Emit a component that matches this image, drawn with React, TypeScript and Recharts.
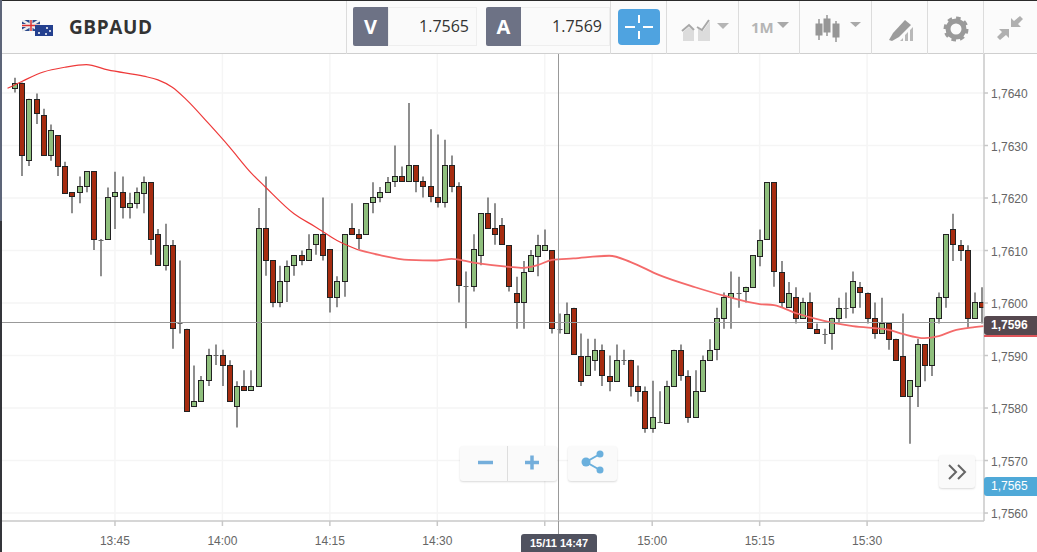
import React from 'react';
import { ComposedChart, Bar, Line, XAxis, YAxis, CartesianGrid, ReferenceLine } from 'recharts';

// one candle per minute, starting 13:31
const firstMinute = 811;

const opens = [
  1.7641, 1.7642, 1.76272, 1.76389, 1.76359, 1.76282, 1.7632, 1.76261, 1.76211, 1.76211,
  1.76222, 1.76251, 1.7612, 1.76122, 1.76203, 1.76211, 1.76182, 1.76191, 1.7621, 1.7623,
  1.76132, 1.76073, 1.76111, 1.75962, 1.75951, 1.75803, 1.75813, 1.75853, 1.75901, 1.75901,
  1.75882, 1.75803, 1.75842, 1.75834, 1.75842, 1.76143, 1.76081, 1.76001, 1.76041, 1.76073,
  1.76091, 1.76081, 1.76113, 1.76131, 1.76102, 1.76012, 1.76041, 1.76142, 1.76131, 1.76131,
  1.76192, 1.76202, 1.76211, 1.76232, 1.76241, 1.76232, 1.76262, 1.76232, 1.76222, 1.76202,
  1.76192, 1.76262, 1.76222, 1.76032, 1.76033, 1.76092, 1.76171, 1.76142, 1.76149, 1.7611,
  1.7602, 1.76001, 1.76061, 1.7609, 1.76101, 1.76101, 1.75951, 1.75942, 1.75991, 1.759,
  1.75862, 1.75891, 1.75911, 1.75861, 1.75852, 1.75892, 1.75892, 1.75842, 1.75832, 1.75762,
  1.75773, 1.75772, 1.75841, 1.75911, 1.75861, 1.75782, 1.75833, 1.75891, 1.75912, 1.75971,
  1.76011, 1.7602, 1.76022, 1.76031, 1.7609, 1.76122, 1.7623, 1.7606, 1.75992, 1.76011,
  1.75972, 1.76001, 1.75951, 1.75941, 1.75942, 1.75972, 1.75991, 1.75992, 1.7603, 1.7602,
  1.75971, 1.75942, 1.75961, 1.75932, 1.759, 1.75822, 1.75841, 1.75922, 1.75881, 1.75971,
  1.76011, 1.76141, 1.7611, 1.76101, 1.75971, 1.76001,
];
const closes = [
  1.7642, 1.76282, 1.76389, 1.76362, 1.76282, 1.7633, 1.76261, 1.7621, 1.76203, 1.76222,
  1.76251, 1.76122, 1.7612, 1.76201, 1.76211, 1.76182, 1.76191, 1.76211, 1.7623, 1.76122,
  1.76073, 1.76111, 1.75953, 1.75962, 1.75794, 1.75813, 1.75853, 1.75901, 1.75901, 1.75882,
  1.75813, 1.75842, 1.75834, 1.75842, 1.76143, 1.76081, 1.76001, 1.76042, 1.76071, 1.76091,
  1.76081, 1.76103, 1.76131, 1.76092, 1.76011, 1.76042, 1.76131, 1.76131, 1.76123, 1.7619,
  1.76201, 1.76212, 1.7623, 1.76241, 1.76232, 1.76262, 1.76232, 1.76222, 1.76203, 1.76192,
  1.76262, 1.76222, 1.76034, 1.76032, 1.76103, 1.76171, 1.76142, 1.76131, 1.76112, 1.76032,
  1.76001, 1.7606, 1.76091, 1.7611, 1.7611, 1.75953, 1.75951, 1.7598, 1.75902, 1.75852,
  1.759, 1.75911, 1.75862, 1.75852, 1.75892, 1.75892, 1.75841, 1.75833, 1.75762, 1.75782,
  1.75773, 1.75842, 1.75911, 1.75862, 1.75782, 1.75832, 1.75892, 1.75911, 1.75971, 1.76012,
  1.7602, 1.7602, 1.7603, 1.76091, 1.7612, 1.7623, 1.76061, 1.76001, 1.7602, 1.75972,
  1.76001, 1.75953, 1.75942, 1.75941, 1.75972, 1.75991, 1.75991, 1.76041, 1.76021, 1.75971,
  1.75942, 1.75961, 1.75932, 1.75892, 1.75822, 1.75853, 1.75922, 1.75881, 1.75971, 1.76011,
  1.76131, 1.76112, 1.76101, 1.75971, 1.76001, 1.75992,
];
const highs = [
  1.76429, 1.7642, 1.76389, 1.76399, 1.7637, 1.7634, 1.7632, 1.76269, 1.76211, 1.76241,
  1.76251, 1.76251, 1.76122, 1.7622, 1.7625, 1.76241, 1.7621, 1.7622, 1.76241, 1.7623,
  1.76141, 1.76151, 1.7612, 1.76081, 1.75951, 1.75881, 1.75861, 1.75913, 1.75921, 1.75911,
  1.75891, 1.75851, 1.75872, 1.75872, 1.76181, 1.76241, 1.76081, 1.76071, 1.76081, 1.76091,
  1.761, 1.76131, 1.76131, 1.76201, 1.76102, 1.76051, 1.76131, 1.7619, 1.76141, 1.7619,
  1.7623, 1.76221, 1.7624, 1.763, 1.7626, 1.76381, 1.76262, 1.76241, 1.76331, 1.76321,
  1.76311, 1.76281, 1.7623, 1.7606, 1.76131, 1.76171, 1.76201, 1.7619, 1.76162, 1.7611,
  1.7605, 1.7608, 1.76101, 1.7613, 1.7614, 1.76101, 1.7598, 1.76001, 1.75991, 1.75942,
  1.75932, 1.75932, 1.75921, 1.759, 1.75921, 1.75911, 1.75892, 1.75881, 1.75841, 1.75852,
  1.75832, 1.75852, 1.75911, 1.75921, 1.75872, 1.75872, 1.759, 1.75931, 1.75991, 1.7602,
  1.7606, 1.7605, 1.76031, 1.76091, 1.7614, 1.7623, 1.7623, 1.7608, 1.7604, 1.7603,
  1.7601, 1.7602, 1.75961, 1.75951, 1.75972, 1.7601, 1.7602, 1.7606, 1.7604, 1.7602,
  1.76001, 1.7601, 1.75961, 1.75932, 1.7598, 1.75853, 1.75932, 1.75922, 1.75971, 1.7602,
  1.76131, 1.7617, 1.7612, 1.7611, 1.7602, 1.7603,
];
const lows = [
  1.76401, 1.76242, 1.76261, 1.76341, 1.76282, 1.76271, 1.76242, 1.7621, 1.76171, 1.7619,
  1.76211, 1.76101, 1.76051, 1.76122, 1.76141, 1.76161, 1.76161, 1.7618, 1.76171, 1.76092,
  1.76073, 1.76062, 1.75913, 1.75942, 1.75794, 1.75803, 1.75813, 1.75842, 1.75882, 1.75842,
  1.75813, 1.75763, 1.75834, 1.75834, 1.75842, 1.76052, 1.75992, 1.75992, 1.76002, 1.76052,
  1.76072, 1.76081, 1.76092, 1.76081, 1.75982, 1.75992, 1.76012, 1.76131, 1.76102, 1.76131,
  1.76171, 1.76192, 1.76211, 1.76221, 1.76232, 1.76232, 1.76211, 1.76201, 1.76192, 1.76182,
  1.76182, 1.76211, 1.76001, 1.75952, 1.76022, 1.76072, 1.76142, 1.76111, 1.76112, 1.76022,
  1.75951, 1.75951, 1.76061, 1.76051, 1.76101, 1.75942, 1.75942, 1.75942, 1.75902, 1.75842,
  1.75862, 1.75871, 1.75842, 1.75832, 1.75852, 1.75882, 1.75822, 1.75812, 1.75753, 1.75753,
  1.75773, 1.75772, 1.75841, 1.75852, 1.75772, 1.75782, 1.75833, 1.75891, 1.75891, 1.75951,
  1.75951, 1.75991, 1.76001, 1.76031, 1.7607, 1.76122, 1.76031, 1.75991, 1.75992, 1.75961,
  1.75972, 1.75953, 1.75942, 1.75922, 1.75911, 1.75961, 1.75971, 1.7598, 1.75991, 1.75961,
  1.75932, 1.75942, 1.75911, 1.75892, 1.75822, 1.75732, 1.75802, 1.75851, 1.75861, 1.75961,
  1.75991, 1.7608, 1.7608, 1.75953, 1.75971, 1.75961,
];

// moving average (minute of day, price)
const maMinutes = [810, 812, 815, 818, 821, 824, 829, 831, 833, 835, 838, 841, 844, 846, 850, 853, 856, 859, 862, 866, 870, 872, 875, 880, 882, 884, 886, 889, 894, 897, 901, 906, 910, 915, 917, 920, 924, 928, 933, 935, 938, 940, 942, 945, 947];
const maValues = [1.76409, 1.76422, 1.7644, 1.76449, 1.76454, 1.76444, 1.76432, 1.76425, 1.76411, 1.76387, 1.76343, 1.76297, 1.76248, 1.76221, 1.7617, 1.76145, 1.76119, 1.76101, 1.76091, 1.76082, 1.76081, 1.76084, 1.76077, 1.76069, 1.76067, 1.76072, 1.76082, 1.76085, 1.7609, 1.76078, 1.76053, 1.7603, 1.76014, 1.75998, 1.75996, 1.75981, 1.75966, 1.75956, 1.75949, 1.75941, 1.75933, 1.75937, 1.75947, 1.75954, 1.75957];
const maSplit = 18; // the line gets paler and thicker from here on

const yTicks = [1.756, 1.757, 1.758, 1.759, 1.76, 1.761, 1.762, 1.763, 1.764];
const xTicks = [825, 840, 855, 870, 885, 900, 915, 930];
const xTickLabels = ['13:45', '14:00', '14:15', '14:30', '', '15:00', '15:15', '15:30'];

const cursorMinute = 886.93;
const cursorPrice = 1.75963;

const candles = opens.map((open, i) => ({
  minute: firstMinute + i,
  open,
  close: closes[i],
  high: highs[i],
  low: lows[i],
  range: [lows[i], highs[i]],
}));
const maPoints = maMinutes.map((minute, i) => ({ minute, ma: maValues[i] }));

const Candle = (props: any) => {
  const { x, y, width, height, payload } = props;
  const { open, close, high, low } = payload;
  const perUnit = height / (high - low || 1);
  const top = Math.round(y + (high - Math.max(open, close)) * perUnit) + 0.5;
  const bottom = Math.round(y + (high - Math.min(open, close)) * perUnit) + 0.5;
  const left = Math.round(x) + 0.5;
  const mid = left + (width - 1) / 2;
  const doji = open === close;
  const fill = close > open ? '#8fbf7d' : '#a62c10';
  return (
    <g>
      <line x1={mid} x2={mid} y1={y} y2={y + height} stroke="#444" strokeWidth={1.2} />
      {doji ? (
        <line x1={left} x2={left + width - 1} y1={top} y2={top} stroke="#666" strokeWidth={1} />
      ) : (
        <rect x={left} y={top} width={width - 1} height={Math.max(bottom - top, 2)} fill={fill} stroke="#222" strokeWidth={1} />
      )}
    </g>
  );
};

const box = (left: number, top: number, width: number, height: number, extra: React.CSSProperties = {}): React.CSSProperties => ({
  position: 'absolute', left, top, width, height, boxSizing: 'border-box', ...extra,
});

const headFont = '"Open Sans", sans-serif';

const Header = () => (
  <div style={box(0, 0, 1037, 54, { background: '#fbfbfb', borderBottom: '1px solid #cfcfcf', borderTop: '1px solid #2a2a2a' })}>
    <svg style={{ position: 'absolute', left: 22, top: 19 }} width={32} height={18}>
      <rect x={0} y={0} width={18} height={11} fill="#2c4a8c" />
      <path d="M0 0L18 11M18 0L0 11" stroke="#eee" strokeWidth={2.5} />
      <path d="M9 0V11M0 5.5H18" stroke="#eee" strokeWidth={3} />
      <path d="M9 0V11M0 5.5H18" stroke="#d33" strokeWidth={1.5} />
      <rect x={13} y={5} width={18} height={11} fill="#24408f" />
      <circle cx={17} cy={13} r={1} fill="#fff" />
      <circle cx={25} cy={8} r={1} fill="#fff" />
      <circle cx={28} cy={11} r={1} fill="#fff" />
      <circle cx={24} cy={14} r={1} fill="#fff" />
    </svg>
    <div style={box(69, 12, 100, 28, { font: `bold 19px ${headFont}`, color: '#333', letterSpacing: 0.6, lineHeight: '28px' })}>GBPAUD</div>

    {[346, 610, 666, 738, 799, 871, 927, 983].map((left) => (
      <div key={left} style={box(left, 0, 1, 53, { background: '#dcdcdc' })} />
    ))}

    <div style={box(388, 6, 89, 39, { background: '#fafafa', border: '1px solid #eee', textAlign: 'right', padding: '0 7px', font: `16px ${headFont}`, lineHeight: '37px', color: '#333' })}>1.7565</div>
    <div style={box(353, 6, 35, 39, { background: '#6d7285', color: '#fff', textAlign: 'center', font: `bold 20px ${headFont}`, lineHeight: '39px', borderRadius: '2px 0 0 2px' })}>V</div>
    <div style={box(520, 6, 90, 39, { background: '#fafafa', border: '1px solid #eee', textAlign: 'right', padding: '0 7px', font: `16px ${headFont}`, lineHeight: '37px', color: '#333' })}>1.7569</div>
    <div style={box(486, 6, 35, 39, { background: '#6d7285', color: '#fff', textAlign: 'center', font: `bold 20px ${headFont}`, lineHeight: '39px', borderRadius: '2px 0 0 2px' })}>A</div>

    <div style={box(618, 8, 42, 36, { background: '#4fa3e0', borderRadius: 4 })}>
      <svg width={42} height={36}>
        <path d="M7 18H17M25 18H35M21 6V14M21 22V30" stroke="#fff" strokeWidth={2} />
      </svg>
    </div>

    <svg style={{ position: 'absolute', left: 680, top: 14 }} width={50} height={28} fill="#b5b5b5">
      <path d="M3 17L9 12L14 16V26H3Z" fill="#dcdcdc" />
      <path d="M18 12L23 16L30 6V26H18Z" fill="#dcdcdc" />
      <path d="M2 16L9 10L14 15M17 12L22 15L29 5" stroke="#a8a8a8" strokeWidth={2} fill="none" />
      <path d="M37 8H49L43 14Z" />
    </svg>
    <div style={box(751, 15, 30, 22, { font: `bold 15px ${headFont}`, color: '#b5b5b5', lineHeight: '22px' })}>1M</div>
    <svg style={{ position: 'absolute', left: 777, top: 20 }} width={14} height={10} fill="#a9a9a9">
      <path d="M0 1H12L6 7Z" />
    </svg>
    <svg style={{ position: 'absolute', left: 815, top: 13 }} width={50} height={30} fill="#969696" stroke="#969696">
      <path d="M4 5V26M12 1V22M21 7V28" strokeWidth={1.5} />
      <rect x={1} y={10} width={6} height={11} />
      <rect x={9} y={5} width={6} height={13} />
      <rect x={18} y={10} width={6} height={13} />
      <path d="M35 8H46L40.500 13Z" fill="#a9a9a9" stroke="none" />
    </svg>
    <svg style={{ position: 'absolute', left: 887, top: 16 }} width={28} height={26}>
      <path d="M2 23L6 16L18 3L24 8L12 20L5 24Z" fill="#9c9c9c" />
      <path d="M13 24L16 21V24ZM18 24V18L21 15V24ZM23 24V13L26 10V24Z" fill="#b9b9b9" />
    </svg>
    <svg style={{ position: 'absolute', left: 943, top: 15 }} width={26} height={26}>
      <circle cx={13} cy={13} r={8} fill="none" stroke="#9a9a9a" strokeWidth={5} />
      <circle cx={13} cy={13} r={11} fill="none" stroke="#9a9a9a" strokeWidth={3} strokeDasharray="4.5 4.1" />
    </svg>
    <svg style={{ position: 'absolute', left: 997, top: 14 }} width={28} height={26} fill="#b0b0b0">
      <path d="M14 12V3L17 6L23 1L26 4L21 9L24 12Z" />
      <path d="M12 14V23L9 20L3 25L0 22L5 17L2 14Z" />
    </svg>
  </div>
);

const Overlays = () => (
  <>
    <div style={box(0, 0, 2, 552, { background: 'linear-gradient(#5d6579 0 40%, #34353a 40% 100%)' })} />

    <div style={box(460, 446, 97, 35, { background: '#fafafa', borderRadius: 3, boxShadow: '0 1px 2px rgba(0,0,0,0.15)' })}>
      <div style={box(47, 0, 1, 35, { background: '#dedede' })} />
      <svg width={97} height={35}>
        <path d="M18 16.500H33" stroke="#74aedb" strokeWidth={3.500} />
        <path d="M65 16.500H79M72 9.500V23.500" stroke="#74aedb" strokeWidth={3.500} />
      </svg>
    </div>
    <div style={box(568, 446, 49, 35, { background: '#fafafa', borderRadius: 3, boxShadow: '0 1px 2px rgba(0,0,0,0.15)' })}>
      <svg width={49} height={35} fill="#6bb0dd">
        <circle cx={32} cy={8} r={3.500} />
        <circle cx={18} cy={16} r={4.500} />
        <circle cx={32} cy={24} r={3.500} />
        <path d="M32 8L18 16L32 24" stroke="#6bb0dd" strokeWidth={2} fill="none" />
      </svg>
    </div>
    <div style={box(939, 455, 36, 33, { background: '#fafafa', borderRadius: 3, boxShadow: '0 1px 2px rgba(0,0,0,0.15)' })}>
      <svg width={36} height={33}>
        <path d="M10 10L17 17L10 24M19 10L26 17L19 24" stroke="#666" strokeWidth={2} fill="none" />
      </svg>
    </div>

    <div style={box(984, 335, 53, 2, { background: '#e0555b' })} />
    <div style={box(984, 316, 53, 19, { background: '#55484f', color: '#fff', borderRadius: '3px 0 0 3px', font: 'bold 12px "Liberation Sans", sans-serif', lineHeight: '19px', paddingLeft: 7 })}>1,7596</div>
    <div style={box(984, 477, 53, 19, { background: '#4fa9d8', color: '#fff', borderRadius: '3px 0 0 3px', font: '12px "Liberation Sans", sans-serif', lineHeight: '19px', paddingLeft: 7 })}>1,7565</div>
    <div style={box(521, 534, 76, 18, { background: '#50525f', color: '#fff', borderRadius: '3px 3px 0 0', font: 'bold 11px "Liberation Sans", sans-serif', lineHeight: '18px', textAlign: 'center' })}>15/11 14:47</div>
    <div style={box(558, 521, 1, 13, { background: '#999' })} />
  </>
);

const axisStroke = '#c8c8c8';
const tickStyle = { fill: '#666', fontSize: 12, fontFamily: '"Liberation Sans", Arial, sans-serif' };

const App: React.FC = () => (
  <div style={{ position: 'absolute', left: 0, top: 0, width: 1037, height: 552, background: '#fff', overflow: 'hidden' }}>
    <ComposedChart width={1037} height={552} data={candles} margin={{ top: 54, right: 0, bottom: 0, left: 0 }}>
      <CartesianGrid stroke="#f5f5f5" strokeWidth={1.500} syncWithTicks />
      <XAxis
        dataKey="minute"
        type="number"
        domain={[808.95, 946.32]}
        allowDataOverflow
        ticks={xTicks}
        height={31}
        tick={tickStyle}
        tickSize={5}
        tickMargin={10}
        interval={0}
        stroke={axisStroke}
        strokeWidth={1.500}
        tickFormatter={(v: number) => xTickLabels[xTicks.indexOf(v)]}
      />
      <YAxis
        orientation="right"
        type="number"
        domain={[1.755848, 1.764743]}
        allowDataOverflow
        ticks={yTicks}
        width={53}
        tick={{ ...tickStyle, dy: 1 }}
        tickSize={4}
        tickMargin={3}
        interval={0}
        stroke={axisStroke}
        strokeWidth={1.500}
        tickFormatter={(v: number) => v.toFixed(4).replace('.', ',')}
      />
      <Bar dataKey="range" barSize={6} shape={Candle} isAnimationActive={false} />
      <Line data={maPoints.slice(0, maSplit)} dataKey="ma" type="monotone" stroke="#ee3a3a" strokeWidth={1.200} dot={false} activeDot={false} isAnimationActive={false} />
      <Line data={maPoints.slice(maSplit - 1)} dataKey="ma" type="monotone" stroke="#f46a6a" strokeWidth={1.800} dot={false} activeDot={false} isAnimationActive={false} />
      <ReferenceLine y={cursorPrice} stroke="#999" strokeWidth={1} shapeRendering="crispEdges" />
      <ReferenceLine x={cursorMinute} stroke="#999" strokeWidth={1} shapeRendering="crispEdges" />
    </ComposedChart>
    <Header />
    <Overlays />
  </div>
);

export default App;
